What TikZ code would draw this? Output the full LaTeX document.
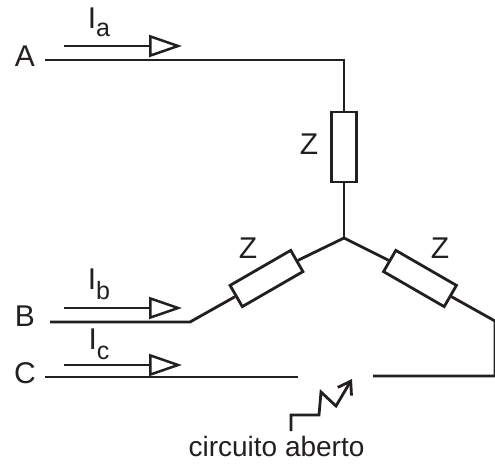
\documentclass[tikz,border=0pt]{standalone}
\usepackage{fontspec}
\setmainfont{Liberation Sans}
\usetikzlibrary{arrows.meta}
\definecolor{ink}{HTML}{231F20}
\tikzset{
  wire/.style={draw=ink,line width=2.8pt},
  imped/.style={draw=ink,line width=2.8pt,fill=white,rectangle,minimum width=70pt,minimum height=24.5pt,inner sep=0pt},
  lab/.style={text=ink,font=\fontsize{30}{30}\selectfont,inner sep=0pt,anchor=base},
  longlab/.style={text=ink,font=\fontsize{28}{28}\selectfont,inner sep=0pt,anchor=base},
  curarrow/.style={draw=ink,line width=2.5pt,-{Triangle[open,length=33pt,width=22pt,line width=2.5pt]}},
}
\begin{document}
\begin{tikzpicture}[x=1pt,y=-1pt]
\useasboundingbox (0,0) rectangle (495,463);
\node[imped,rotate=90] (za) at (344,147) {};
\node[imped,rotate=30] (zb) at (266.5,278.5) {};
\node[imped,rotate=-30] (zc) at (420,278.5) {};
\coordinate (j) at (344,238);
\coordinate (as) at (45,60);
\coordinate (ac) at (344,60);
\coordinate (bs) at (50,322);
\coordinate (bc) at (190,322);
\coordinate (cr) at (495,321);
\coordinate (cd) at (495,376);
\coordinate (ce) at (373,376);
\coordinate (cs) at (45,377);
\coordinate (ct) at (298,377);
\draw[wire,line join=miter] (as) -- (ac) -- (za.east);
\draw[wire] (za.west) -- (j);
\draw[wire] (j) -- (zb.east);
\draw[wire,line join=miter] (zb.west) -- (bc) -- (bs);
\draw[wire] (j) -- (zc.west);
\draw[wire,line join=miter] (zc.east) -- (cr) -- (cd) -- (ce);
\draw[wire] (cs) -- (ct);
\coordinate (a1) at (64,46); \coordinate (a2) at (182,46);
\coordinate (b1) at (64,308); \coordinate (b2) at (182,308);
\coordinate (c1) at (64,365); \coordinate (c2) at (182,365);
\draw[curarrow] (a1) -- (a2);
\draw[curarrow] (b1) -- (b2);
\draw[curarrow] (c1) -- (c2);
\node[lab] (la) at (25,66) {A};
\node[lab] (lb) at (25,326) {B};
\node[lab] (lc) at (25,383) {C};
\node[lab] (ia) at (99,28) {I\raisebox{-8pt}{\fontsize{25}{25}\selectfont a}};
\node[lab] (ib) at (99,289) {I\raisebox{-10pt}{\fontsize{25}{25}\selectfont b}};
\node[lab] (ic) at (99,349) {I\raisebox{-10pt}{\fontsize{25}{25}\selectfont c}};
\node[lab] (tza) at (309,154) {Z};
\node[lab] (tzb) at (248,258) {Z};
\node[lab] (tzc) at (440,258) {Z};
\node[longlab] (open) at (276.5,456) {circuito aberto};
\coordinate (z0) at (291,431); \coordinate (z1) at (291,415); \coordinate (z2) at (319,415);
\coordinate (z3) at (321,392); \coordinate (z4) at (336,406); \coordinate (z5) at (352,379);
\draw[wire,line join=miter,-{Straight Barb[length=12pt,width=16pt,line width=2.8pt]}] (z0) -- (z1) -- (z2) -- (z3) -- (z4) -- (z5);
\end{tikzpicture}
\end{document}
